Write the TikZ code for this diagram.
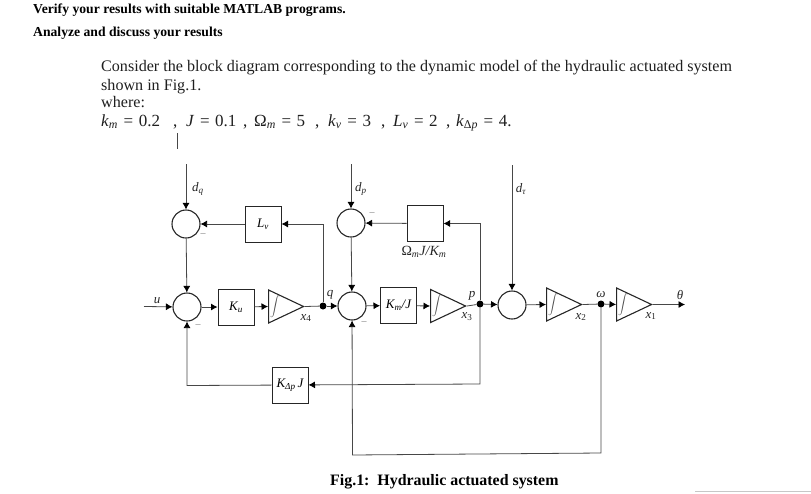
\documentclass[tikz,border=0pt]{standalone}
\usepackage{fontspec}
\setmainfont{Liberation Serif}
\usetikzlibrary{arrows.meta,shapes.geometric,calc}
\newcommand{\sbs}[1]{\textsubscript{\textit{#1}}}
\newcommand{\eqq}{\hspace{0.33em}=\hspace{0.33em}}
\newcommand{\eqterm}[3]{\makebox[#1pt][l]{\makebox[#2pt][l]{#3},}}
\definecolor{ln}{gray}{0.28}
\tikzset{
  x=1pt,y=-1pt,
  wire/.style={draw=ln,line width=0.8pt},
  arr/.style={wire,-{Latex[length=6.5pt,width=7pt,black]}},
  sumc/.style={circle,draw=black!85,line width=1.1pt,minimum size=28pt,inner sep=0,fill=white},
  blk/.style={rectangle,draw=black!85,line width=1pt,minimum width=36pt,minimum height=36pt,inner sep=0,fill=white,font=\fontsize{13}{13}\selectfont\itshape},
  integ/.style={isosceles triangle,isosceles triangle stretches,shape border rotate=0,draw=black!85,line width=1.1pt,minimum width=33pt,minimum height=35pt,inner sep=0,anchor=apex},
  intg/.style={font=\fontsize{8}{8}\selectfont,text=black!70,inner sep=0},
  dot/.style={circle,fill=black,minimum size=7pt,inner sep=0},
  lab/.style={font=\fontsize{13}{13}\selectfont\itshape,inner sep=0,text=black!85},
  body/.style={anchor=base west,inner sep=0,font=\fontsize{16.1}{16.1}\selectfont,text=black!88},
  head/.style={anchor=base west,inner sep=0,font=\fontsize{13.66}{13.66}\selectfont\bfseries},
  minus/.style={font=\fontsize{10}{10}\selectfont,inner sep=0,text=black!55}
}
\begin{document}
\begin{tikzpicture}
\useasboundingbox (0,0) rectangle (811,493);
% text
\node[head] (h1) at (33,13) {Verify your results with suitable MATLAB programs.};
\node[head] (h2) at (33,36) {Analyze and discuss your results};
\node[body] (t1) at (101,71) {Consider the block diagram corresponding to the dynamic model of the hydraulic actuated system};
\node[body] (t2) at (101,90) {shown in Fig.1.};
\node[body] (t3) at (101,107) {where:};
\node[body,font=\fontsize{17}{17}\selectfont] (t4) at (101,126) {\eqterm{85}{72}{\textit{k}\sbs{m}\eqq 0.2}\eqterm{68}{57}{\textit{J}\eqq 0.1}\eqterm{74}{61}{Ω\sbs{m}\eqq 5}\eqterm{65}{53}{\textit{k}\sbs{v}\eqq 3}\eqterm{63}{53}{\textit{L}\sbs{v}\eqq 2}\textit{k}\textsubscript{Δ\textit{p}}\eqq 4.};
\node[anchor=base west,inner sep=0,font=\fontsize{15.9}{15.9}\selectfont\bfseries] (cap) at (330,485) {Fig.1:\ \ Hydraulic actuated system};
% stray marks
\coordinate (s1) at (177,133); \coordinate (s2) at (177,149);
\draw[wire] (s1) -- (s2);
\coordinate (g1) at (695,491); \coordinate (g2) at (811,491);
\draw[draw=black!22,line width=0.8pt] (g1) -- (g2);
% blocks
\node[sumc] (sq) at (186,224) {};
\node[sumc] (su) at (187,307) {};
\node[sumc] (sp) at (351,223) {};
\node[sumc] (sm) at (352,306) {};
\node[sumc] (st) at (512,305) {};
\node[blk] (Lv) at (263,224) {L\sbs{v}};
\node[blk] (Ku) at (236,307) {K\sbs{u}};
\node[blk] (Km) at (398.5,305.5) {K\sbs{m}/J};
\node[blk] (Kd) at (290,385) {K\textsubscript{Δ\textit{p}}\,J};
\node[blk] (Om) at (425,223.5) {};
\node[integ] (i1) at (305,306.5) {};
\node[integ] (i2) at (467,306) {};
\node[integ] (i3) at (583,304.5) {};
\node[integ] (i4) at (653,304.5) {};
\foreach \n in {i1,i2,i3,i4}{\node[intg] (\n s) at ($(\n.west)+(7,0)$) {$\displaystyle\int$};}
\node[dot] (dq) at (323,306) {};
\node[dot] (dp) at (480,304) {};
\node[dot] (dw) at (601,304) {};
% free ends
\coordinate (inq) at (186,164);
\coordinate (inp) at (351,164);
\coordinate (int) at (512,165);
\coordinate (inu) at (144,306.5);
\coordinate (out) at (685,304.5);
\coordinate (c1) at (323,224);
\coordinate (c2) at (480,223.5);
\coordinate (c3) at (480,384);
\coordinate (c4) at (187,385.5);
\coordinate (c5) at (601,453);
\coordinate (c6) at (352.5,455);
% connectors
\draw[arr] (inq) -- (sq);
\draw[arr] (inp) -- (sp);
\draw[arr] (int) -- (st);
\draw[arr] (inu) -- (su);
\draw[arr] (Lv) -- (sq);
\draw[arr] (Om) -- (sp);
\draw[arr] (sq) -- (su);
\draw[arr] (sp) -- (sm);
\draw[arr] (su) -- (Ku);
\draw[arr] (Ku) -- (i1.west);
\draw[wire] (i1.apex) -- (dq);
\draw[arr] (dq) -- (sm);
\draw[arr] (sm) -- (Km);
\draw[arr] (Km) -- (i2.west);
\draw[wire] (i2.apex) -- (dp);
\draw[arr] (dp) -- (st);
\draw[arr] (st) -- (i3.west);
\draw[wire] (i3.apex) -- (dw);
\draw[arr] (dw) -- (i4.west);
\draw[arr] (i4.apex) -- (out);
\draw[arr] (dq) -- (c1) -- (Lv);
\draw[arr] (dp) -- (c2) -- (Om);
\draw[arr] (dp) -- (c3) -- (Kd);
\draw[arr] (Kd) -- (c4) -- (su);
\draw[arr] (dw) -- (c5) -- (c6) -- (sm);
% labels
\node[lab] (lu) at (157,301) {u};
\node[lab] (ldq) at (198,189) {d\sbs{q}};
\node[lab] (ldp) at (361,189) {d\sbs{p}};
\node[lab] (ldt) at (521,189) {d\textsubscript{\textit{τ}}};
\node[lab] (lq) at (330,295) {q};
\node[lab] (lp) at (472,296) {p};
\node[lab] (lw) at (601,295) {ω};
\node[lab] (lth) at (680,295) {θ};
\node[lab] (x4) at (306,318) {x\textsubscript{\textup{4}}};
\node[lab] (x3) at (467,317) {x\textsubscript{\textup{3}}};
\node[lab] (x2) at (581,317) {x\textsubscript{\textup{2}}};
\node[lab] (x1) at (651,316) {x\textsubscript{\textup{1}}};
\node[lab,font=\fontsize{14}{14}\selectfont\itshape] (lo) at (424,252) {\textup{Ω}\sbs{m}J/K\sbs{m}};
\node[minus] (m1) at (203,235) {–};
\node[minus] (m2) at (198,326) {–};
\node[minus] (m3) at (372,214) {–};
\node[minus] (m4) at (364,323) {–};
\end{tikzpicture}
\end{document}
